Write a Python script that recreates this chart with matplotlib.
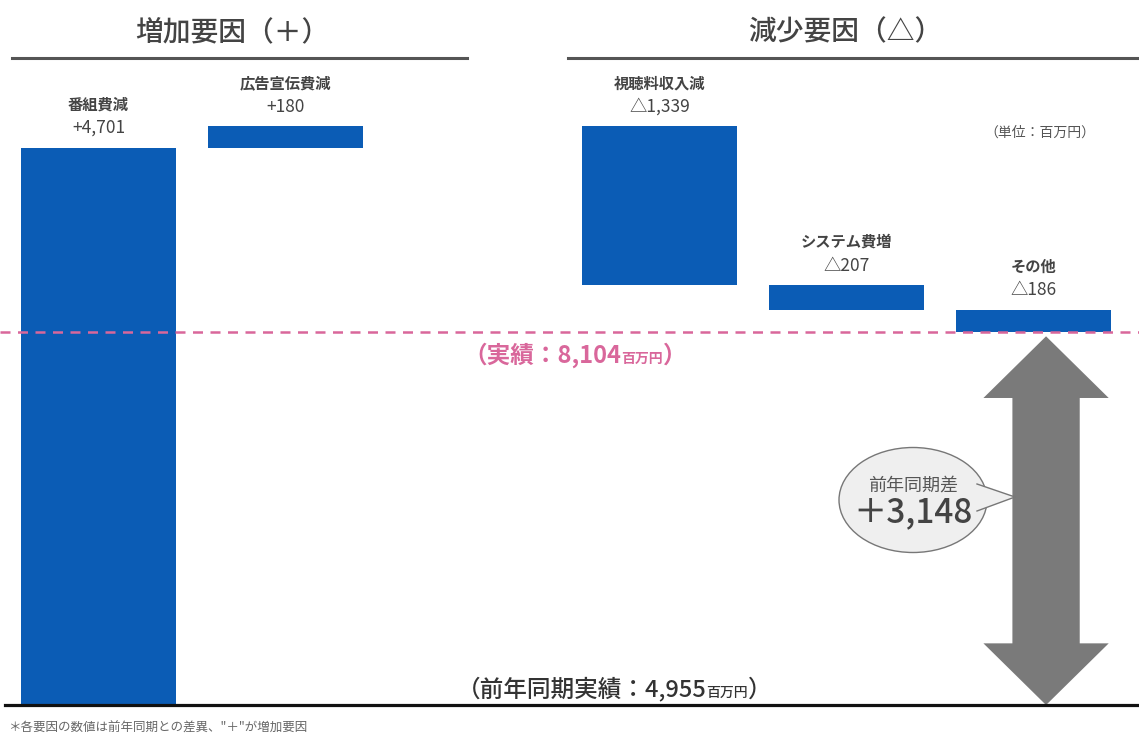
import matplotlib
matplotlib.use("Agg")
import matplotlib.pyplot as plt
from matplotlib import transforms
from matplotlib.lines import Line2D
from matplotlib.patches import Ellipse, Polygon
from matplotlib.offsetbox import TextArea, HPacker, AnnotationBbox

plt.rcParams['font.family'] = ['Noto Sans CJK JP', 'DejaVu Sans']

# データ（単位：百万円）
base_value = 4955      # 前年同期実績
actual_value = 8104    # 実績
diff_value = 3148      # 前年同期差
inc_labels = ['番組費減', '広告宣伝費減']
inc_values = [4701, 180]
dec_labels = ['視聴料収入減', 'システム費増', 'その他']
dec_values = [1339, 207, 186]
inc_pos = [0, 1]
dec_pos = [3, 4, 5]

W, H = 1139, 740
fig = plt.figure(figsize=(W / 100, H / 100), dpi=100)
ax = fig.add_axes([0, 0, 1, 1])
ax.set_xlim(-0.527, 5.564)
ax.set_ylim(4660, 10900)
ax.axis('off')

# 画素座標（左上原点）で飾りを置くための変換
T = transforms.Affine2D().scale(1 / W, -1 / H).translate(0, 1) + fig.transFigure

blue = '#0b5cb5'
txt = '#444444'
pink = '#d9679b'

# 積み上げ位置を計算
inc_bottoms = []
level = base_value
for v in inc_values:
    inc_bottoms.append(level)
    level += v
dec_bottoms = []
for v in dec_values:
    level -= v
    dec_bottoms.append(level)

ax.bar(inc_pos, inc_values, bottom=inc_bottoms, width=0.83, color=blue, zorder=3)
ax.bar(dec_pos, dec_values, bottom=dec_bottoms, width=0.83, color=blue, zorder=3)

# 棒の上のラベル
for x, v, b, name in zip(inc_pos, inc_values, inc_bottoms, inc_labels):
    ax.annotate('+{:,}'.format(v), (x, b + v), xytext=(0, 14), textcoords='offset points',
                ha='center', va='center', fontsize=12.5, color=txt)
    ax.annotate(name, (x, b + v), xytext=(0, 31), textcoords='offset points',
                ha='center', va='center', fontsize=11, color=txt, fontweight='bold')
for x, v, b, name in zip(dec_pos, dec_values, dec_bottoms, dec_labels):
    ax.annotate('△{:,}'.format(v), (x, b + v), xytext=(0, 14), textcoords='offset points',
                ha='center', va='center', fontsize=12.5, color=txt)
    ax.annotate(name, (x, b + v), xytext=(0, 31), textcoords='offset points',
                ha='center', va='center', fontsize=11, color=txt, fontweight='bold')

# 基準線と実績線
ax.axhline(base_value, xmin=5 / W, color='#111111', lw=2.3, zorder=4)
ax.axhline(actual_value, color=pink, lw=1.8, ls=(0, (4, 3)), zorder=5)

# 両矢印（前年同期実績→実績）
cx, hw_s, hw_h, hl = 5.067, 0.18, 0.335, 520
top, bot = actual_value - 40, base_value
arrow = Polygon([(cx, top), (cx + hw_h, top - hl), (cx + hw_s, top - hl),
                 (cx + hw_s, bot + hl), (cx + hw_h, bot + hl), (cx, bot),
                 (cx - hw_h, bot + hl), (cx - hw_s, bot + hl),
                 (cx - hw_s, top - hl), (cx - hw_h, top - hl)],
                closed=True, fc='#7a7a7a', ec='none', zorder=2)
ax.add_patch(arrow)

# 吹き出し
fig.add_artist(Ellipse((913, 500), 148, 105, transform=T, fc='#efefef', ec='#777777', lw=1, zorder=6))
fig.add_artist(Polygon([(977, 484), (1015, 497), (977, 511)], closed=True, transform=T,
                       fc='#efefef', ec='none', zorder=7))
fig.add_artist(Line2D([977, 1015, 977], [484, 497, 511], transform=T, color='#777777', lw=1, zorder=7))
fig.text(913, 486, '前年同期差', transform=T, ha='center', va='center', fontsize=13, color='#555555', zorder=8)
fig.text(913, 513, '＋{:,}'.format(diff_value), transform=T, ha='center', va='center', fontsize=24,
         color=txt, fontweight='medium', zorder=8)

# 見出し
fig.text(232, 32, '増加要因（＋）', transform=T, ha='center', va='center', fontsize=20, color=txt,
         fontweight='medium')
fig.text(845, 32, '減少要因（△）', transform=T, ha='center', va='center', fontsize=20, color=txt,
         fontweight='medium')
fig.add_artist(Line2D([12, 467], [58, 58], transform=T, color='#555555', lw=2.2))
fig.add_artist(Line2D([568, 1139], [58, 58], transform=T, color='#555555', lw=2.2))
fig.text(1040, 133, '（単位：百万円）', transform=T, ha='center', va='center', fontsize=10, color='#555555')


def mixed_label(main, color, pos, size, weight):
    parts = HPacker(children=[
        TextArea(main, textprops=dict(fontsize=size, color=color, fontweight=weight)),
        TextArea('百万円', textprops=dict(fontsize=10, color=color, fontweight=weight)),
        TextArea('）', textprops=dict(fontsize=size, color=color, fontweight=weight)),
    ], align='baseline', pad=0, sep=0)
    fig.add_artist(AnnotationBbox(parts, pos, xycoords=T, box_alignment=(0.5, 0.5),
                                  frameon=False, pad=0, zorder=8))


mixed_label('（実績：{:,}'.format(actual_value), pink, (575, 355), 17, 'bold')
mixed_label('（前年同期実績：{:,}'.format(base_value), '#333333', (614, 689), 17, 'medium')

fig.text(8, 728, '＊各要因の数値は前年同期との差異、"＋"が増加要因', transform=T, ha='left', va='center',
         fontsize=9, color='#666666')

fig.savefig('out.png', dpi=100)
